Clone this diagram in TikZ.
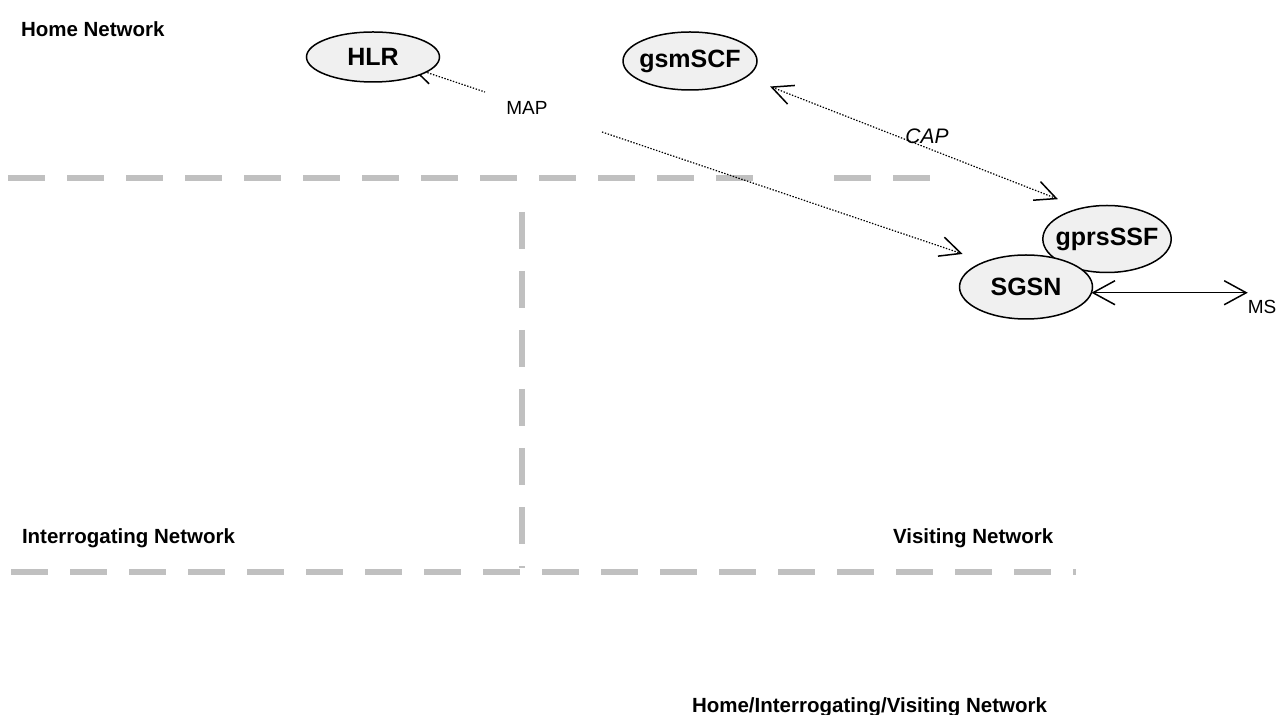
\documentclass[tikz,border=0pt]{standalone}
\usepackage{fontspec}
\setmainfont{Liberation Sans}
\definecolor{dashgray}{HTML}{C0C0C0}
\definecolor{nodefill}{HTML}{F0F0F0}
\usetikzlibrary{arrows.meta}
\usetikzlibrary{shapes.geometric}
\usetikzlibrary{backgrounds}
\tikzstyle{base}=[x=0.5pt, y=-0.5pt, inner sep=0pt, outer sep=0pt]
\tikzstyle{entity}=[ellipse, draw=black, line width=0.75pt, fill=nodefill, inner xsep=-3pt, font=\fontsize{12.5}{14}\selectfont\bfseries]
\tikzstyle{netlabel}=[anchor=base west, font=\fontsize{10.25}{12}\selectfont\bfseries]
\tikzstyle{border}=[dashgray, line width=3pt, dash pattern=on 18.5pt off 11pt]
\tikzstyle{sig}=[line width=0.6pt, dash pattern=on 0.7pt off 0.8pt, >={Straight Barb[length=10.5pt,width=10pt,line width=0.75pt]}]
\tikzstyle{link}=[line width=0.6pt, >={Straight Barb[length=11pt,width=12pt,line width=0.75pt]}]

\begin{document}
\begin{tikzpicture}[base]
    \useasboundingbox (0,0) rectangle (1278,715);
        \node [entity, minimum width=66.5pt, minimum height=25pt] (hlr) at (373,57) {HLR};
        \node [entity, minimum width=67pt, minimum height=29pt] (gsmscf) at (690,61) {gsmSCF};
        \node [entity, minimum width=64pt, minimum height=33.5pt] (gprsssf) at (1107,239) {gprsSSF};
        \node [entity, minimum width=66.5pt, minimum height=32pt] (sgsn) at (1026,287) {SGSN};
        \node [font=\fontsize{9.5}{11}\selectfont] (map) at (527,108) {MAP};
        \node [font=\fontsize{10.5}{12}\selectfont\itshape] (cap) at (927,136) {CAP};
        \node [font=\fontsize{9.5}{11}\selectfont] (ms) at (1262,307) {MS};
        \node [netlabel] (home) at (21,37) {Home Network};
        \node [netlabel] (interrogating) at (22,543) {Interrogating Network};
        \node [netlabel] (visiting) at (893,543) {Visiting Network};
        \node [netlabel] (all) at (692,712) {Home/Interrogating/Visiting Network};
        \coordinate (mapL) at (485,92);
        \coordinate (mapR) at (602,132);
    \begin{scope}[on background layer]
        \draw [border] (8,178) -- (755,178);
        \draw [border] (834,178) -- (932,178);
        \draw [border] (522,212) -- (522,568);
        \draw [border] (11,572) -- (1076,572);
        \draw [sig, <-, shorten <=-8pt] (hlr.-16) -- (mapL);
        \draw [sig, ->, shorten >=12pt] (mapR) -- (sgsn.148);
        \draw [sig, <->, shorten <=13pt, shorten >=12.5pt] (gsmscf.-16) -- (gprsssf.130);
        \draw [link, <->] (sgsn.-5) -- (sgsn.-5 -| ms.west);
    \end{scope}
\end{tikzpicture}
\end{document}
